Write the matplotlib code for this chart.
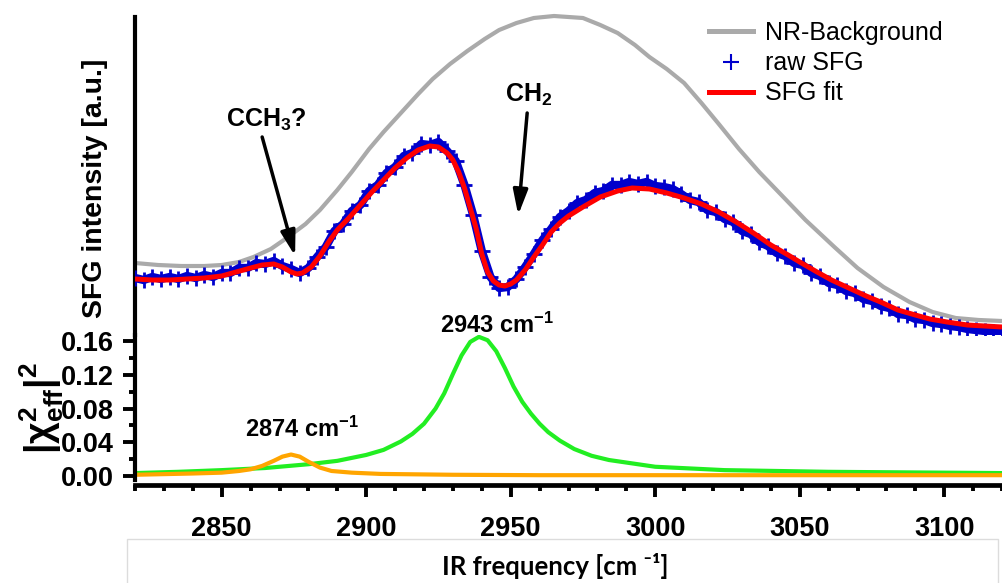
import numpy as np
import matplotlib
matplotlib.use("Agg")
import matplotlib.pyplot as plt
from matplotlib.ticker import MultipleLocator, FormatStrFormatter
from matplotlib.patches import Rectangle
from matplotlib.lines import Line2D

plt.rcParams['font.family'] = ['Liberation Sans', 'DejaVu Sans']
plt.rcParams['mathtext.fontset'] = 'custom'
plt.rcParams['mathtext.rm'] = 'Liberation Sans:bold'
plt.rcParams['mathtext.bf'] = 'Liberation Sans:bold'
plt.rcParams['mathtext.it'] = 'Liberation Sans:bold'
plt.rcParams['mathtext.default'] = 'bf'

# ---------------- data ----------------
# NR background (a.u.)
nr_x = [2820, 2828, 2836, 2844, 2850, 2856, 2861, 2867, 2873, 2879, 2884, 2890, 2895,
        2901, 2906, 2912, 2918, 2923, 2929, 2935, 2941, 2946, 2952, 2958, 2965, 2970,
        2975, 2981, 2987, 2993, 2998, 3004, 3010, 3016, 3022, 3029, 3036, 3044, 3052,
        3062, 3070, 3079, 3088, 3096, 3104, 3112, 3120]
nr_y = [72, 70, 69, 69, 70, 73, 78, 86, 98, 111, 125, 145, 163,
        186, 203, 222, 241, 256, 271, 284, 296, 305, 312, 317, 319, 318,
        317, 310, 302, 290, 278, 266, 252, 232, 211, 186, 163, 139, 115,
        88, 67, 48, 33, 23, 17, 15, 14]

# raw SFG (a.u.)
raw_x = np.arange(2820, 3121, 3)
raw_y = [57, 55, 58, 56, 58, 56, 59, 57, 60, 58,
         62, 62, 67, 67, 72, 71, 74, 69, 66, 62,
         67, 78, 88, 104, 111, 124, 130, 144, 150, 162,
         168, 179, 182, 191, 190, 193, 184, 174, 150, 120,
         84, 58, 47, 48, 56, 68, 81, 95, 106, 118,
         124, 132, 135, 142, 144, 150, 150, 153, 151, 153,
         149, 148, 146, 141, 135, 133, 125, 123, 116, 113,
         104, 101, 93, 89, 82, 79, 72, 70, 62, 59,
         52, 50, 44, 42, 36, 34, 29, 27, 21, 20,
         16, 15, 12, 11, 9, 8, 6, 5, 4, 3,
         2]

# SFG fit (a.u.)
fit_x = [2820, 2826, 2832, 2838, 2844, 2850, 2855, 2860, 2864, 2868, 2871, 2874, 2876,
         2878, 2881, 2884, 2887, 2890, 2894, 2898, 2902, 2906, 2910, 2914, 2918, 2922,
         2925, 2928, 2930, 2932, 2934, 2936, 2938, 2940, 2942, 2944, 2946, 2948, 2950,
         2952, 2955, 2958, 2961, 2964, 2967, 2970, 2975, 2981, 2987, 2992, 2998, 3004,
         3010, 3016, 3022, 3028, 3034, 3040, 3046, 3050, 3056, 3061, 3067, 3073, 3078,
         3084, 3090, 3095, 3101, 3108, 3114, 3120]
fit_y = [56, 55, 55, 56, 57, 59, 63, 67, 70, 71, 68, 63, 61,
         62, 68, 79, 93, 105, 117, 130, 143, 155, 167, 177, 185, 189,
         188, 182, 175, 163, 147, 127, 107, 81, 63, 54, 50, 49, 51,
         55, 65, 78, 90, 103, 112, 119, 128, 138, 144, 147, 146, 142,
         137, 131, 123, 113, 102, 90, 80, 73, 63, 55, 47, 39, 33,
         25, 20, 16, 13, 10, 9, 8]

# |chi_eff|^2 components
g_x = [2820, 2835, 2850, 2865, 2880, 2890, 2900, 2906, 2912, 2916, 2920, 2924, 2927,
       2930, 2933, 2936, 2939, 2942, 2945, 2948, 2951, 2954, 2957, 2960, 2963, 2967,
       2972, 2978, 2984, 3000, 3024, 3060, 3120]
g_y = [0.0035, 0.005, 0.007, 0.0095, 0.014, 0.018, 0.025, 0.031, 0.041, 0.050, 0.062,
       0.080, 0.098, 0.121, 0.143, 0.159, 0.165, 0.161, 0.148, 0.128, 0.106, 0.088,
       0.074, 0.062, 0.052, 0.042, 0.032, 0.024, 0.019, 0.011, 0.007, 0.005, 0.0035]

o_x = [2820, 2840, 2850, 2856, 2860, 2864, 2868, 2871, 2874, 2877, 2880, 2884, 2888,
       2895, 2905, 2930, 2960, 3120]
o_y = [0.0015, 0.003, 0.004, 0.006, 0.008, 0.012, 0.018, 0.023, 0.0255, 0.023, 0.017,
       0.010, 0.006, 0.004, 0.0025, 0.0015, 0.001, 0.001]

peak_labels = ["2943 cm$^{-1}$", "2874 cm$^{-1}$"]
x_ticks = [2850, 2900, 2950, 3000, 3050, 3100]
y_ticks = [0.00, 0.04, 0.08, 0.12, 0.16]

# ---------------- figure ----------------
W, H = 1002, 583
fig = plt.figure(figsize=(W / 100, H / 100), dpi=100)


def fx(px):
    return px / W


def fy(py):
    return 1 - py / H


ax_top = fig.add_axes([fx(135), fy(335), fx(1002) - fx(135), fy(12) - fy(335)])
ax_bot = fig.add_axes([fx(135), fy(480), fx(1002) - fx(135), fy(335) - fy(480)])

GRAY = '#AAAAAA'
BLUE = '#0000CC'
RED = '#FF0000'
GREEN = '#22EE22'
ORANGE = '#FFA500'

ax_top.plot(nr_x, nr_y, color=GRAY, lw=3.0, zorder=2, solid_capstyle='butt')
ax_top.plot(raw_x, raw_y, color=BLUE, lw=6.0, zorder=3)
ax_top.plot(raw_x, raw_y, ls='none', marker='+', ms=12, mew=2.0, color=BLUE, zorder=3)
ax_top.plot(fit_x, fit_y, color=RED, lw=3.6, zorder=4, solid_capstyle='butt')

ax_top.set_xlim(2820, 3120)
ax_top.set_ylim(0, 323)
ax_top.set_xticks([])
ax_top.set_yticks([])
for s in ['top', 'right', 'bottom']:
    ax_top.spines[s].set_visible(False)
ax_top.spines['left'].set_linewidth(3)
ax_top.spines['left'].set_bounds(0, 318)
ax_top.patch.set_alpha(0)

handles = [Line2D([], [], color=GRAY, lw=3.6),
           Line2D([], [], ls='none', marker='+', ms=12, mew=1.5, color=BLUE),
           Line2D([], [], color=RED, lw=3.6)]
leg = ax_top.legend(handles, ['NR-Background', 'raw SFG', 'SFG fit'],
                    loc='upper left', bbox_to_anchor=(fx(709), fy(21)),
                    bbox_transform=fig.transFigure, frameon=False,
                    fontsize=18, handlelength=1.75, handletextpad=0.5,
                    labelspacing=0.25, borderpad=0, borderaxespad=0)

arrow_kw = dict(arrowstyle='-|>,head_length=0.75,head_width=0.22', color='black',
                lw=2.5, shrinkA=0, shrinkB=0, mutation_scale=20)
ax_top.annotate('', xy=(2875.4, 79), xytext=(2864, 198), arrowprops=arrow_kw)
ax_top.annotate('', xy=(2952.6, 120), xytext=(2955.7, 222), arrowprops=arrow_kw)
ax_top.text(2865.4, 208, 'CCH$_3$?', ha='center', va='baseline', fontsize=18,
            fontweight='bold')
ax_top.text(2956.3, 233, 'CH$_2$', ha='center', va='baseline', fontsize=18,
            fontweight='bold')

# bottom panel
ax_bot.plot(g_x, g_y, color=GREEN, lw=3.0)
ax_bot.plot(o_x, o_y, color=ORANGE, lw=3.0)
ax_bot.set_xlim(2820, 3120)
ax_bot.set_ylim(-0.0047, 0.1672)
ax_bot.patch.set_alpha(0)
for s in ['top', 'right']:
    ax_bot.spines[s].set_visible(False)
ax_bot.spines['left'].set_linewidth(3)
ax_bot.spines['bottom'].set_linewidth(3.4)
ax_bot.spines['bottom'].set_position(('outward', 3.6))

ax_bot.set_xticks(x_ticks)
ax_bot.xaxis.set_minor_locator(MultipleLocator(10))
ax_bot.set_yticks(y_ticks)
ax_bot.yaxis.set_minor_locator(MultipleLocator(0.02))
ax_bot.yaxis.set_major_formatter(FormatStrFormatter('%.2f'))
ax_bot.tick_params(axis='x', which='major', length=8.6, width=2.8, direction='out',
                   pad=14, labelsize=19.5)
ax_bot.tick_params(axis='x', which='minor', length=4.3, width=2.8, direction='out')
ax_bot.tick_params(axis='y', which='major', length=8.6, width=2.8, direction='out',
                   pad=6.5, labelsize=19.5)
ax_bot.tick_params(axis='y', which='minor', length=4.3, width=2.8, direction='out')
for lbl in ax_bot.get_xticklabels() + ax_bot.get_yticklabels():
    lbl.set_fontweight('bold')

ax_bot.text(2945.3, 0.179, peak_labels[0], ha='center', va='center', fontsize=17,
            fontweight='bold')
ax_bot.text(2877.8, 0.0557, peak_labels[1], ha='center', va='center', fontsize=17,
            fontweight='bold')

# axis labels
fig.text(fx(95), fy(188), 'SFG intensity [a.u.]', rotation=90, ha='center',
         va='center', fontsize=20.5, fontweight='bold')
fig.text(fx(42), fy(408), '$|χ^2_{eff}|^2$', rotation=90, ha='center', va='center',
         fontsize=27)
fig.text(fx(555), fy(566), 'IR frequency [cm ⁻¹]', ha='center', va='center',
         fontsize=18.5, fontweight='bold', family=['Lato', 'DejaVu Sans'])

fig.add_artist(Rectangle((fx(127), -0.02), fx(998) - fx(127), fy(539) + 0.02,
                         transform=fig.transFigure, fill=False, edgecolor='#DCDCDC',
                         lw=1.0))

fig.savefig('out.png', dpi=100)
